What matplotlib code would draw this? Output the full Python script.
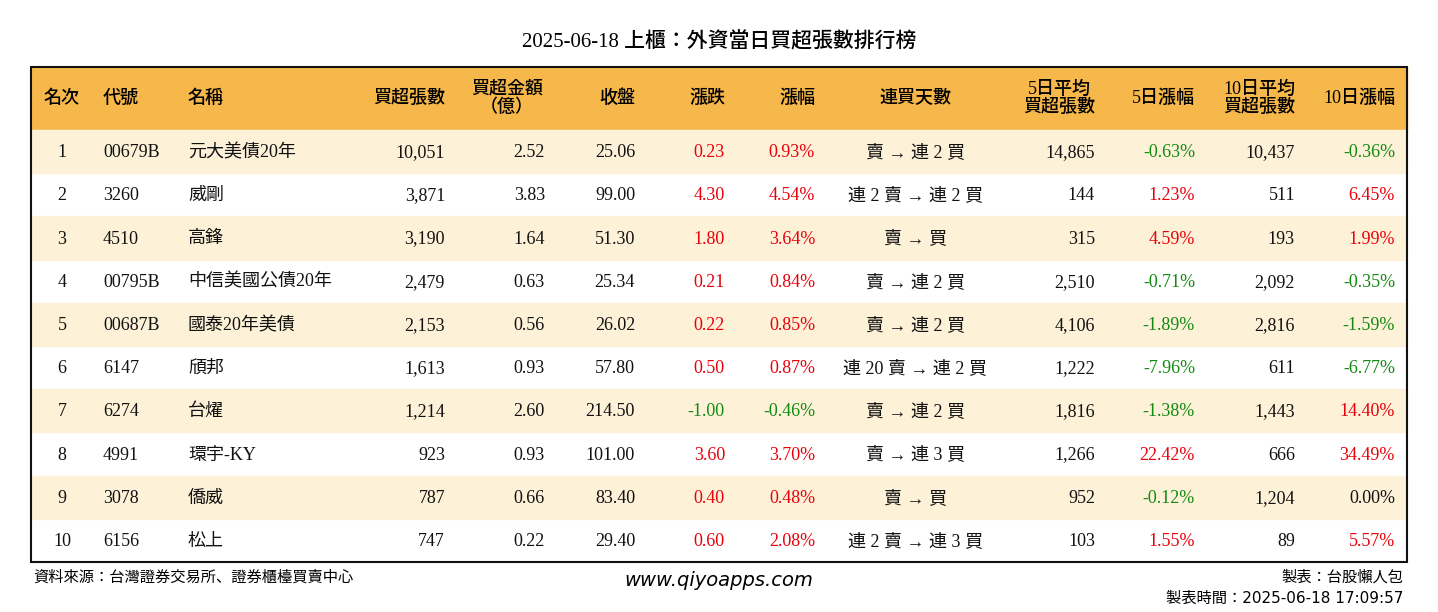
import matplotlib.pyplot as plt
from matplotlib import font_manager
from matplotlib.patches import Rectangle

cjk_names = sorted({f.name for f in font_manager.fontManager.ttflist if "CJK" in f.name})
cjk = next((n for n in ["Noto Sans CJK TC", "Noto Sans CJK JP", "Noto Sans CJK SC"] if n in cjk_names),
           cjk_names[0] if cjk_names else "DejaVu Sans")
SERIF = ["Liberation Serif", cjk]
SANS = ["DejaVu Sans", cjk]
plt.rcParams["font.family"] = SERIF

title = "2025-06-18 上櫃：外資當日買超張數排行榜"
headers = ["名次", "代號", "名稱", "買超張數", "買超金額\n（億）", "收盤", "漲跌", "漲幅",
           "連買天數", "5日平均\n買超張數", "5日漲幅", "10日平均\n買超張數", "10日漲幅"]

rank = [1, 2, 3, 4, 5, 6, 7, 8, 9, 10]
code = ["00679B", "3260", "4510", "00795B", "00687B", "6147", "6274", "4991", "3078", "6156"]
name = ["元大美債20年", "威剛", "高鋒", "中信美國公債20年", "國泰20年美債", "頎邦", "台燿",
        "環宇-KY", "僑威", "松上"]
net_buy = [10051, 3871, 3190, 2479, 2153, 1613, 1214, 923, 787, 747]
amount = [2.52, 3.83, 1.64, 0.63, 0.56, 0.93, 2.60, 0.93, 0.66, 0.22]
close = [25.06, 99.00, 51.30, 25.34, 26.02, 57.80, 214.50, 101.00, 83.40, 29.40]
change = [0.23, 4.30, 1.80, 0.21, 0.22, 0.50, -1.00, 3.60, 0.40, 0.60]
pct = [0.93, 4.54, 3.64, 0.84, 0.85, 0.87, -0.46, 3.70, 0.48, 2.08]
streak = ["賣 → 連 2 買", "連 2 賣 → 連 2 買", "賣 → 買", "賣 → 連 2 買", "賣 → 連 2 買",
          "連 20 賣 → 連 2 買", "賣 → 連 2 買", "賣 → 連 3 買", "賣 → 買", "連 2 賣 → 連 3 買"]
avg5 = [14865, 144, 315, 2510, 4106, 1222, 1816, 1266, 952, 103]
pct5 = [-0.63, 1.23, 4.59, -0.71, -1.89, -7.96, -1.38, 22.42, -0.12, 1.55]
avg10 = [10437, 511, 193, 2092, 2816, 611, 1443, 666, 1204, 89]
pct10 = [-0.36, 6.45, 1.99, -0.35, -1.59, -6.77, 14.40, 34.49, 0.00, 5.57]

RED, GREEN, BLACK = "#e8000b", "#118a11", "#111111"
def sign_color(v):
    return RED if v > 0 else (GREEN if v < 0 else BLACK)

W, H = 1438, 612
fig = plt.figure(figsize=(W / 100, H / 100), dpi=100)
ax = fig.add_axes([0, 0, 1, 1])
ax.set_xlim(0, W)
ax.set_ylim(H, 0)
ax.axis("off")

left, right, top, head_h, row_h = 31, 1407, 67, 63, 43.2
# (x, ha) per column
cols = [(62, "center"), (103, "left"), (188, "left"), (445, "right"), (545, "right"),
        (635, "right"), (725, "right"), (815, "right"), (915, "center"), (1095, "right"),
        (1195, "right"), (1295, "right"), (1395, "right")]
head_pos = list(cols)
head_pos[4] = (507, "center")

ax.text(W / 2, 42, title, ha="center", va="center", fontsize=15, fontweight="medium")
ax.add_patch(Rectangle((left, top), right - left, head_h, color="#f7b84b", zorder=0))
for (x, ha), h in zip(head_pos, headers):
    ax.text(x, top + head_h / 2, h, ha=ha, va="center", fontsize=13, fontweight="medium",
            linespacing=1.1, multialignment="center")

for i in range(len(rank)):
    y0 = top + head_h + i * row_h
    yc = y0 + row_h / 2 + 1
    if i % 2 == 0:
        ax.add_patch(Rectangle((left, y0), right - left, row_h, color="#fdf1d8", zorder=0))
    cells = [
        (str(rank[i]), BLACK), (code[i], BLACK), (name[i], BLACK),
        (f"{net_buy[i]:,}", BLACK), (f"{amount[i]:.2f}", BLACK), (f"{close[i]:.2f}", BLACK),
        (f"{change[i]:.2f}", sign_color(change[i])), (f"{pct[i]:.2f}%", sign_color(pct[i])),
        (streak[i], BLACK), (f"{avg5[i]:,}", BLACK), (f"{pct5[i]:.2f}%", sign_color(pct5[i])),
        (f"{avg10[i]:,}", BLACK), (f"{pct10[i]:.2f}%", sign_color(pct10[i])),
    ]
    for (x, ha), (t, c) in zip(cols, cells):
        ax.text(x, yc, t, ha=ha, va="center", fontsize=13, color=c)

bottom = top + head_h + len(rank) * row_h
ax.add_patch(Rectangle((left, top), right - left, bottom - top, fill=False,
                       edgecolor="#111111", linewidth=1.5, zorder=3))

ax.text(33, 577, "資料來源：台灣證券交易所、證券櫃檯買賣中心", ha="left", va="center",
        fontsize=11, family=SANS)
ax.text(W / 2, 580, "www.qiyoapps.com", ha="center", va="center", fontsize=14,
        style="italic", family="DejaVu Sans")
ax.text(1403, 577, "製表：台股懶人包", ha="right", va="center", fontsize=11, family=SANS)
ax.text(1403, 598, "製表時間：2025-06-18 17:09:57", ha="right", va="center", fontsize=11,
        family=SANS)

fig.savefig("out.png", dpi=100, facecolor="white")
